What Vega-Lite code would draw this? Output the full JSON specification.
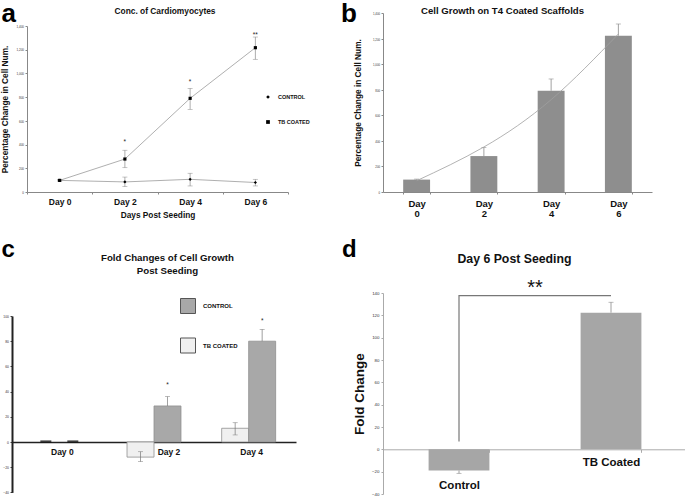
{
  "$schema": "https://vega.github.io/schema/vega-lite/v6.json",
  "padding": {"left": 0, "top": 0, "right": 0, "bottom": 0},
  "background": "white",
  "config": {
    "font": "Liberation Sans",
    "view": {"stroke": null},
    "axis": {"grid": false, "labelFont": "Liberation Sans", "titleFont": "Liberation Sans", "labelColor": "#333", "titleColor": "#111", "domainColor": "#888", "tickColor": "#888"},
    "legend": {"labelFont": "Liberation Sans", "padding": 0},
    "title": {"font": "Liberation Sans", "color": "#000"}
  },
  "resolve": {"scale": {"color": "independent", "shape": "independent"}, "legend": {"color": "independent", "shape": "independent"}},
  "columns": 2,
  "spacing": {"row": 18, "column": 30},
  "concat": [
    {
      "width": 276,
      "height": 179,
      "resolve": {"axis": {"x": "independent", "y": "independent"}},
      "data": {"values": [
        {"day": "Day 0", "series": "CONTROL", "value": 98, "lo": 93, "hi": 103},
        {"day": "Day 2", "series": "CONTROL", "value": 85, "lo": 45, "hi": 126},
        {"day": "Day 4", "series": "CONTROL", "value": 107, "lo": 51, "hi": 158},
        {"day": "Day 6", "series": "CONTROL", "value": 80, "lo": 51, "hi": 107},
        {"day": "Day 0", "series": "TB COATED", "value": 98, "lo": 93, "hi": 103},
        {"day": "Day 2", "series": "TB COATED", "value": 278, "lo": 205, "hi": 352},
        {"day": "Day 4", "series": "TB COATED", "value": 790, "lo": 697, "hi": 874},
        {"day": "Day 6", "series": "TB COATED", "value": 1217, "lo": 1119, "hi": 1307}
      ]},
      "layer": [
        {
          "mark": {"type": "rule", "color": "#8a8a8a", "strokeWidth": 0.7},
          "encoding": {
            "x": {"field": "day", "type": "nominal", "sort": ["Day 0", "Day 2", "Day 4", "Day 6"], "scale": {"paddingInner": 0, "paddingOuter": 0, "range": [15, 276]},
              "axis": {"orient": "bottom", "title": "Days Post Seeding", "labelAngle": 0, "labelFontSize": 8.5, "labelFontWeight": "bold", "labelColor": "#111", "titleFontSize": 8.3, "titleFontWeight": "bold", "tickBand": "extent", "tickSize": 2, "labelPadding": 3, "titlePadding": 5}},
            "y": {"field": "lo", "type": "quantitative", "scale": {"domain": [0, 1400], "range": [179, 13]},
              "axis": {"orient": "left", "offset": -15, "title": "Percentage Change in Cell Num.", "values": [0, 200, 400, 600, 800, 1000, 1200, 1400], "labelFontSize": 3, "tickSize": 2, "labelPadding": 1.5, "titleFontSize": 8.3, "titleFontWeight": "bold", "titlePadding": 6}},
            "y2": {"field": "hi"}
          }
        },
        {
          "mark": {"type": "tick", "color": "#8a8a8a", "size": 5, "thickness": 0.7},
          "encoding": {
            "x": {"field": "day", "type": "nominal", "sort": ["Day 0", "Day 2", "Day 4", "Day 6"], "axis": null},
            "y": {"field": "lo", "type": "quantitative",
              "axis": {"orient": "left", "title": "a", "labels": false, "ticks": false, "domain": false, "titleAngle": 0, "titleX": -11, "titleY": 8.5, "titleAlign": "left", "titleBaseline": "alphabetic", "titleFontSize": 26, "titleFontWeight": "bold", "titleColor": "#000"}}
          }
        },
        {
          "mark": {"type": "tick", "color": "#8a8a8a", "size": 5, "thickness": 0.7},
          "encoding": {
            "x": {"field": "day", "type": "nominal", "sort": ["Day 0", "Day 2", "Day 4", "Day 6"], "axis": null},
            "y": {"field": "hi", "type": "quantitative", "axis": null}
          }
        },
        {
          "mark": {"type": "line", "color": "#9a9a9a", "strokeWidth": 0.8},
          "encoding": {
            "x": {"field": "day", "type": "nominal", "sort": ["Day 0", "Day 2", "Day 4", "Day 6"], "axis": null},
            "y": {"field": "value", "type": "quantitative", "axis": null},
            "detail": {"field": "series"}
          }
        },
        {
          "mark": {"type": "point", "filled": true, "color": "#000", "opacity": 1, "size": 10},
          "encoding": {
            "x": {"field": "day", "type": "nominal", "sort": ["Day 0", "Day 2", "Day 4", "Day 6"], "axis": null},
            "y": {"field": "value", "type": "quantitative", "axis": null},
            "shape": {"field": "series", "type": "nominal", "scale": {"domain": ["CONTROL", "TB COATED"], "range": ["diamond", "square"]},
              "legend": {"orient": "none", "legendX": 253, "legendY": 81, "title": null, "labelFontSize": 5.5, "labelFontWeight": "bold", "labelColor": "#111", "symbolSize": 14, "rowPadding": 15, "labelOffset": 7,
                "encode": {"symbols": {"update": {"fill": {"value": "#000"}, "stroke": {"value": "#000"}, "opacity": {"value": 1}}}}}}
          }
        },
        {
          "data": {"values": [
            {"day": "Day 2", "label": "*", "value": 409},
            {"day": "Day 4", "label": "*", "value": 907},
            {"day": "Day 6", "label": "**", "value": 1311}
          ]},
          "mark": {"type": "text", "fontSize": 6.5, "color": "#222", "baseline": "alphabetic"},
          "encoding": {
            "x": {"field": "day", "type": "nominal", "sort": ["Day 0", "Day 2", "Day 4", "Day 6"],
              "axis": {"orient": "top", "title": "Conc. of Cardiomyocytes", "labels": false, "ticks": false, "domain": false, "titleFontSize": 8.4, "titleFontWeight": "bold", "titleAngle": 0, "titleX": 152.5, "titleY": 0.5, "titleAlign": "center", "titleBaseline": "alphabetic", "titleColor": "#111"}},
            "y": {"field": "value", "type": "quantitative", "axis": null},
            "text": {"field": "label"}
          }
        }
      ]
    },
    {
      "width": 269,
      "height": 179,
      "resolve": {"axis": {"x": "independent", "y": "independent"}},
      "data": {"values": [
        {"day": "Day 0", "value": 97, "hi": 101, "trend": 88},
        {"day": "Day 2", "value": 281, "hi": 349, "trend": 352},
        {"day": "Day 4", "value": 792, "hi": 884, "trend": 722},
        {"day": "Day 6", "value": 1222, "hi": 1314, "trend": 1236}
      ]},
      "layer": [
        {
          "mark": {"type": "bar", "color": "#8e8e8e"},
          "encoding": {
            "x": {"field": "day", "type": "nominal", "sort": ["Day 0", "Day 2", "Day 4", "Day 6"], "scale": {"paddingInner": 0.6, "paddingOuter": 0.3},
              "axis": {"orient": "bottom", "title": null, "labelAngle": 0, "labelExpr": "split(datum.label, ' ')", "labelFontSize": 9.5, "labelFontWeight": "bold", "labelColor": "#111", "labelLineHeight": 10, "tickBand": "extent", "tickSize": 2, "labelPadding": 4}},
            "y": {"field": "value", "type": "quantitative", "scale": {"domain": [0, 1400]},
              "axis": {"orient": "left", "title": "Percentage Change in Cell Num.", "values": [0, 200, 400, 600, 800, 1000, 1200, 1400], "labelFontSize": 2.8, "tickSize": 2, "labelPadding": 1.5, "titleFontSize": 8.3, "titleFontWeight": "bold", "titlePadding": 10}}
          }
        },
        {
          "mark": {"type": "rule", "color": "#8a8a8a", "strokeWidth": 0.8},
          "encoding": {
            "x": {"field": "day", "type": "nominal", "sort": ["Day 0", "Day 2", "Day 4", "Day 6"], "axis": null},
            "y": {"field": "value", "type": "quantitative",
              "axis": {"orient": "left", "title": "b", "labels": false, "ticks": false, "domain": false, "titleAngle": 0, "titleX": -42.5, "titleY": 8.5, "titleAlign": "left", "titleBaseline": "alphabetic", "titleFontSize": 26, "titleFontWeight": "bold", "titleColor": "#000"}},
            "y2": {"field": "hi"}
          }
        },
        {
          "mark": {"type": "tick", "color": "#8a8a8a", "size": 5, "thickness": 0.8},
          "encoding": {
            "x": {"field": "day", "type": "nominal", "sort": ["Day 0", "Day 2", "Day 4", "Day 6"], "axis": null},
            "y": {"field": "hi", "type": "quantitative", "axis": null}
          }
        },
        {
          "mark": {"type": "line", "color": "#a0a0a0", "strokeWidth": 0.8, "interpolate": "natural"},
          "encoding": {
            "x": {"field": "day", "type": "nominal", "sort": ["Day 0", "Day 2", "Day 4", "Day 6"],
              "axis": {"orient": "top", "title": "Cell Growth on T4 Coated Scaffolds", "labels": false, "ticks": false, "domain": false, "titleFontSize": 9.6, "titleFontWeight": "bold", "titleAngle": 0, "titleX": 119, "titleY": 0.5, "titleAlign": "center", "titleBaseline": "alphabetic", "titleColor": "#111"}},
            "y": {"field": "trend", "type": "quantitative", "axis": null}
          }
        }
      ]
    },
    {
      "width": 284,
      "height": 199.4,
      "resolve": {"axis": {"x": "independent", "y": "independent"}},
      "data": {"values": [
        {"day": "Day 0", "series": "TB COATED", "value": 0.5, "lo": 0.5, "hi": 0.5},
        {"day": "Day 0", "series": "CONTROL", "value": 0.5, "lo": 0.5, "hi": 0.5},
        {"day": "Day 2", "series": "TB COATED", "value": -12, "lo": -15.6, "hi": -7.7},
        {"day": "Day 2", "series": "CONTROL", "value": 28.6, "lo": 28.6, "hi": 36},
        {"day": "Day 4", "series": "TB COATED", "value": 10.9, "lo": 5.6, "hi": 15.3},
        {"day": "Day 4", "series": "CONTROL", "value": 80, "lo": 80, "hi": 89.4}
      ]},
      "layer": [
        {
          "transform": [{"filter": "datum.day !== 'Day 0'"}],
          "mark": {"type": "bar", "stroke": "#8f8f8f", "strokeWidth": 0.8},
          "encoding": {
            "x": {"field": "day", "type": "nominal", "sort": ["Day 0", "Day 2", "Day 4"], "scale": {"domain": ["Day 0", "Day 2", "Day 4"], "paddingInner": 0.43, "paddingOuter": 0.215},
              "axis": {"orient": "bottom", "offset": -50.4, "title": null, "labelAngle": 0, "labelFontSize": 8.5, "labelFontWeight": "bold", "labelColor": "#111", "domainColor": "#222", "domainWidth": 1.5, "ticks": false, "labelPadding": 5,
                "labelOffset": {"condition": {"test": "datum.value === 'Day 2'", "value": 15}, "value": 3}}},
            "xOffset": {"field": "series", "type": "nominal", "scale": {"domain": ["TB COATED", "CONTROL"], "paddingInner": 0}},
            "y": {"field": "value", "type": "quantitative", "scale": {"domain": [-40, 100], "range": [199.4, 23]},
              "axis": {"orient": "left", "title": null, "values": [-40, -20, 0, 20, 40, 60, 80, 100], "labelFontSize": 3.4, "tickSize": 2, "labelPadding": 1.5, "domainColor": "#222", "domainWidth": 2, "tickColor": "#444"}},
            "color": {"field": "series", "type": "nominal", "scale": {"domain": ["CONTROL", "TB COATED"], "range": ["#a8a8a8", "#f0f0f0"]},
              "legend": {"orient": "none", "legendX": 168, "legendY": 5, "title": null, "symbolType": "square", "symbolSize": 225, "symbolStrokeColor": "#555", "symbolStrokeWidth": 1, "labelFontSize": 6, "labelFontWeight": "bold", "labelColor": "#111", "rowPadding": 19.5, "labelOffset": 7}}
          }
        },
        {
          "transform": [{"filter": "datum.day === 'Day 0'"}],
          "mark": {"type": "tick", "color": "#000", "size": 11, "thickness": 2},
          "encoding": {
            "x": {"field": "day", "type": "nominal", "sort": ["Day 0", "Day 2", "Day 4"], "axis": null},
            "xOffset": {"field": "series", "type": "nominal"},
            "y": {"field": "value", "type": "quantitative",
              "axis": {"orient": "left", "title": "c", "labels": false, "ticks": false, "domain": false, "titleAngle": 0, "titleX": -11, "titleY": -37, "titleAlign": "left", "titleBaseline": "alphabetic", "titleFontSize": 24, "titleFontWeight": "bold", "titleColor": "#000"}}
          }
        },
        {
          "transform": [{"filter": "datum.day !== 'Day 0'"}],
          "mark": {"type": "rule", "color": "#777", "strokeWidth": 0.7},
          "encoding": {
            "x": {"field": "day", "type": "nominal", "sort": ["Day 0", "Day 2", "Day 4"], "axis": null},
            "xOffset": {"field": "series", "type": "nominal"},
            "y": {"field": "lo", "type": "quantitative", "axis": null},
            "y2": {"field": "hi"}
          }
        },
        {
          "transform": [{"filter": "datum.day !== 'Day 0'"}],
          "mark": {"type": "tick", "color": "#777", "size": 5, "thickness": 0.7},
          "encoding": {
            "x": {"field": "day", "type": "nominal", "sort": ["Day 0", "Day 2", "Day 4"], "axis": null},
            "xOffset": {"field": "series", "type": "nominal"},
            "y": {"field": "hi", "type": "quantitative", "axis": null}
          }
        },
        {
          "transform": [{"filter": "datum.day !== 'Day 0' && datum.series === 'TB COATED'"}],
          "mark": {"type": "tick", "color": "#777", "size": 5, "thickness": 0.7},
          "encoding": {
            "x": {"field": "day", "type": "nominal", "sort": ["Day 0", "Day 2", "Day 4"], "axis": null},
            "xOffset": {"field": "series", "type": "nominal"},
            "y": {"field": "lo", "type": "quantitative", "axis": null}
          }
        },
        {
          "data": {"values": [
            {"day": "Day 2", "series": "CONTROL", "label": "*", "value": 44},
            {"day": "Day 4", "series": "CONTROL", "label": "*", "value": 94.3}
          ]},
          "mark": {"type": "text", "fontSize": 6.5, "color": "#222", "baseline": "alphabetic"},
          "encoding": {
            "x": {"field": "day", "type": "nominal", "sort": ["Day 0", "Day 2", "Day 4"],
              "axis": {"orient": "top", "title": ["Fold Changes of Cell Growth", "Post Seeding"], "labels": false, "ticks": false, "domain": false, "titleFontSize": 9.7, "titleFontWeight": "bold", "titleLineHeight": 12.5, "titleAngle": 0, "titleX": 155, "titleY": -32.5, "titleAlign": "center", "titleBaseline": "alphabetic", "titleColor": "#111"}},
            "xOffset": {"field": "series", "type": "nominal"},
            "y": {"field": "value", "type": "quantitative", "axis": null},
            "text": {"field": "label"}
          }
        }
      ]
    },
    {
      "width": 304,
      "height": 201,
      "resolve": {"axis": {"x": "independent", "y": "independent"}},
      "data": {"values": [
        {"group": "Control", "value": -19, "lo": -21.5, "hi": -19, "cap": -21.5},
        {"group": "TB Coated", "value": 122.4, "lo": 122.4, "hi": 131.7, "cap": 131.7}
      ]},
      "layer": [
        {
          "mark": {"type": "bar", "color": "#a6a6a6"},
          "encoding": {
            "x": {"field": "group", "type": "nominal", "sort": ["Control", "TB Coated"], "scale": {"paddingInner": 0.6, "paddingOuter": 0.3},
              "axis": {"orient": "bottom", "offset": -44.7, "title": null, "labelAngle": 0, "labelFontSize": 11.5, "labelFontWeight": "bold", "labelColor": "#111", "domainColor": "#aaa", "tickColor": "#aaa", "tickBand": "extent", "tickSize": 3, "labelPadding": 4,
                "labelExpr": "datum.value === 'Control' ? ['', '', 'Control'] : datum.value", "labelLineHeight": 23.5}},
            "y": {"field": "value", "type": "quantitative", "scale": {"domain": [-40, 140]},
              "axis": {"orient": "left", "title": "Fold Change", "values": [-40, -20, 0, 20, 40, 60, 80, 100, 120, 140], "labelFontSize": 4.4, "tickSize": 2, "labelPadding": 2, "titleFontSize": 13.5, "titleFontWeight": "bold", "titlePadding": 5, "domainColor": "#aaa", "tickColor": "#aaa"}}
          }
        },
        {
          "mark": {"type": "rule", "color": "#888", "strokeWidth": 0.8},
          "encoding": {
            "x": {"field": "group", "type": "nominal", "sort": ["Control", "TB Coated"], "axis": null},
            "y": {"field": "lo", "type": "quantitative",
              "axis": {"orient": "left", "title": "d", "labels": false, "ticks": false, "domain": false, "titleAngle": 0, "titleX": -41.5, "titleY": -37, "titleAlign": "left", "titleBaseline": "alphabetic", "titleFontSize": 24, "titleFontWeight": "bold", "titleColor": "#000"}},
            "y2": {"field": "hi"}
          }
        },
        {
          "mark": {"type": "tick", "color": "#888", "size": 5, "thickness": 0.8},
          "encoding": {
            "x": {"field": "group", "type": "nominal", "sort": ["Control", "TB Coated"], "axis": null},
            "y": {"field": "cap", "type": "quantitative", "axis": null}
          }
        },
        {
          "data": {"values": [
            {"group": "Control", "y": 7, "o": 1},
            {"group": "Control", "y": 137.6, "o": 2},
            {"group": "TB Coated", "y": 137.6, "o": 3}
          ]},
          "mark": {"type": "line", "color": "#777", "strokeWidth": 1.2},
          "encoding": {
            "x": {"field": "group", "type": "nominal", "sort": ["Control", "TB Coated"],
              "axis": {"orient": "top", "title": "Day 6 Post Seeding", "labels": false, "ticks": false, "domain": false, "titleFontSize": 12.3, "titleFontWeight": "bold", "titleAngle": 0, "titleX": 131, "titleY": -31, "titleAlign": "center", "titleBaseline": "alphabetic", "titleColor": "#111"}},
            "y": {"field": "y", "type": "quantitative", "axis": null},
            "order": {"field": "o"}
          }
        },
        {
          "data": {"values": [{"label": "**", "y": 139}]},
          "mark": {"type": "text", "fontSize": 20, "color": "#111", "baseline": "alphabetic"},
          "encoding": {
            "y": {"field": "y", "type": "quantitative", "axis": null},
            "text": {"field": "label"}
          }
        }
      ]
    }
  ]
}
